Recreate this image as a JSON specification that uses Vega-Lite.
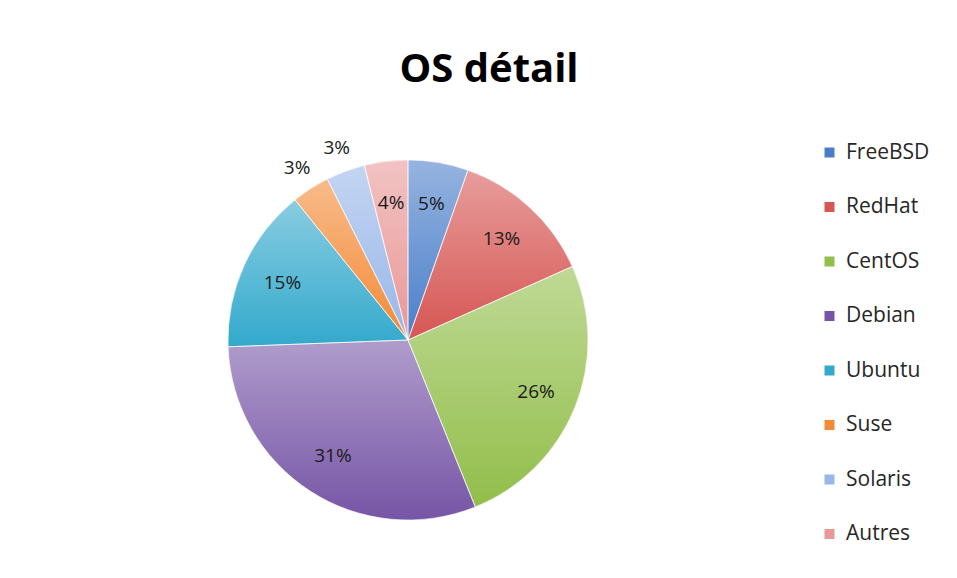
{
  "$schema": "https://vega.github.io/schema/vega-lite/v6.json",
  "autosize": "none",
  "width": 800,
  "height": 480,
  "padding": {"left": 8, "top": 100, "right": 149, "bottom": 0},
  "background": "white",
  "title": {
    "text": "OS détail",
    "anchor": "middle",
    "frame": "group",
    "dx": 81,
    "offset": 10,
    "font": "Open Sans",
    "fontSize": 40,
    "fontWeight": "bold",
    "color": "#000000"
  },
  "config": {"view": {"stroke": null}},
  "data": {
    "values": [
      {"os": "FreeBSD", "v": 5.4, "label": "5%", "i": 1},
      {"os": "RedHat", "v": 12.9, "label": "13%", "i": 2},
      {"os": "CentOS", "v": 25.6, "label": "26%", "i": 3},
      {"os": "Debian", "v": 30.5, "label": "31%", "i": 4},
      {"os": "Ubuntu", "v": 14.8, "label": "15%", "i": 5},
      {"os": "Suse", "v": 3.4, "label": "3%", "i": 6},
      {"os": "Solaris", "v": 3.5, "label": "3%", "i": 7},
      {"os": "Autres", "v": 3.9, "label": "4%", "i": 8}
    ]
  },
  "encoding": {
    "theta": {"field": "v", "type": "quantitative", "stack": true},
    "order": {"field": "i", "type": "quantitative"}
  },
  "layer": [
    {
      "mark": {"type": "arc", "outerRadius": 180},
      "encoding": {
        "color": {
          "field": "os",
          "type": "nominal",
          "sort": ["FreeBSD", "RedHat", "CentOS", "Debian", "Ubuntu", "Suse", "Solaris", "Autres"],
          "scale": {
            "domain": ["FreeBSD", "RedHat", "CentOS", "Debian", "Ubuntu", "Suse", "Solaris", "Autres"],
            "range": ["#4a7ec9", "#d65653", "#92be4a", "#7655a6", "#33a9cc", "#f38a36", "#98b6e8", "#e99797"]
          },
          "legend": {
            "orient": "none",
            "legendX": 811,
            "legendY": 42,
            "title": null,
            "symbolType": "square",
            "symbolSize": 100,
            "symbolStrokeWidth": 0,
            "labelFont": "Open Sans",
            "labelFontSize": 21,
            "labelColor": "#262626",
            "labelOffset": 6,
            "rowPadding": 32.5
          }
        }
      }
    },
    {
      "mark": {
        "type": "arc",
        "outerRadius": 180,
        "stroke": "#ffffff",
        "strokeWidth": 1,
        "strokeOpacity": 0.6,
        "fill": {
          "gradient": "linear",
          "x1": 0, "y1": 0, "x2": 0, "y2": 1,
          "stops": [
            {"offset": 0, "color": "rgba(255,255,255,0.42)"},
            {"offset": 1, "color": "rgba(255,255,255,0)"}
          ]
        }
      }
    },
    {
      "mark": {"type": "text", "radius": 138, "font": "Open Sans", "fontSize": 19, "fill": "#1a1a1a", "baseline": "middle", "align": "center"},
      "encoding": {
        "text": {
          "condition": {"test": "datum.os !== 'Suse' && datum.os !== 'Solaris'", "field": "label"},
          "value": ""
        }
      }
    },
    {
      "mark": {"type": "text", "radius": 205, "font": "Open Sans", "fontSize": 19, "fill": "#1a1a1a", "baseline": "middle", "align": "center"},
      "encoding": {
        "text": {
          "condition": {"test": "datum.os === 'Suse' || datum.os === 'Solaris'", "field": "label"},
          "value": ""
        }
      }
    }
  ]
}
